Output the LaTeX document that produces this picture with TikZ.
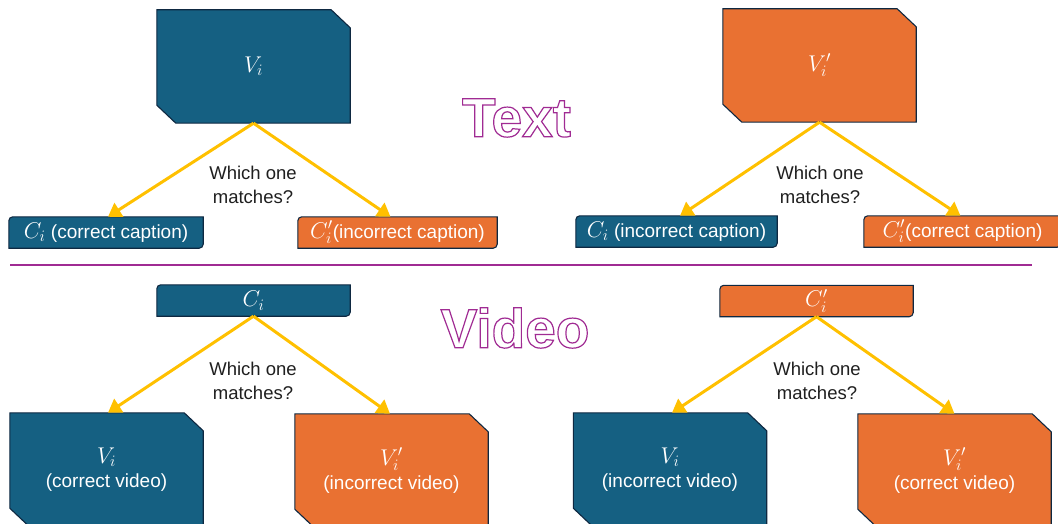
\RequirePackage{fix-cm}
\documentclass[tikz,border=0pt]{standalone}
\usepackage{fontspec}
\setmainfont{Liberation Sans}
\usetikzlibrary{arrows.meta,backgrounds}
\definecolor{cblue}{HTML}{156082}
\definecolor{corange}{HTML}{E97132}
\definecolor{cedge}{HTML}{0E2841}
\definecolor{cgold}{HTML}{FFC000}
\definecolor{cpurple}{HTML}{A02B93}
\newcommand{\outlinetext}[1]{{\color{white}\special{pdf:literal direct 0.627 0.169 0.576 RG 2 Tr 1.2 w}#1\special{pdf:literal direct 0 Tr}}}
\newcommand{\mth}[1]{\scalebox{1.2}{$#1$}}
\tikzset{
  vbox/.style={minimum width=193pt, minimum height=113pt, inner sep=0pt, text=white, align=center, font=\fontsize{19}{24}\selectfont},
  cbox/.style={minimum width=#1, minimum height=31pt, inner sep=0pt, text=white, font=\fontsize{19}{24}\selectfont},
  qtext/.style={align=center, font=\fontsize{18.5}{24}\selectfont, text=black!88, inner sep=0pt},
  title/.style={font=\fontsize{55}{60}\bfseries\selectfont, inner sep=0pt},
  arr/.style={draw=cgold, line width=3pt, -{Triangle[length=13pt,width=16pt]}},
  shapeline/.style={draw=cedge, line width=1.1pt},
  sepline/.style={draw=cpurple, line width=1.4pt},
}
\begin{document}
\begin{tikzpicture}[x=1pt,y=-1pt]
\useasboundingbox (0,0) rectangle (1058,524);
\coordinate (sepA) at (10,265);
\coordinate (sepB) at (1032,265);
\draw[sepline] (sepA) -- (sepB);
% ---------- Text part ----------
\node[vbox] (V1) at (253.5,66.5) {\mth{V_i}};
\node[vbox] (V2) at (819.5,65.5) {\mth{V_i'}};
\node[cbox=194pt] (c1) at (106,232.5) {\mth{C_i} (correct caption)};
\node[cbox=199pt] (c2) at (397.5,232.5) {\mth{C_i'}(incorrect caption)};
\node[cbox=201pt] (c3) at (676.5,231.5) {\mth{C_i} (incorrect caption)};
\node[cbox=197pt] (c4) at (962.5,231.5) {\mth{C_i'}(correct caption)};
\node[qtext] (q1) at (253,185) {Which one\\matches?};
\node[qtext] (q2) at (820,185) {Which one\\matches?};
% ---------- Video part ----------
\node[cbox=193pt] (C1) at (253.5,300.5) {\mth{C_i}};
\node[cbox=193pt] (C2) at (816.5,301) {\mth{C_i'}};
\node[qtext] (q3) at (253,380.5) {Which one\\matches?};
\node[qtext] (q4) at (817,380.5) {Which one\\matches?};
\node[vbox] (B1) at (106.5,469.5) {\mth{V_i}\\(correct video)};
\node[vbox] (B2) at (391.5,470.5) {\mth{V_i'}\\(incorrect video)};
\node[vbox] (B3) at (670,469.5) {\mth{V_i}\\(incorrect video)};
\node[vbox] (B4) at (954.5,470.5) {\mth{V_i'}\\(correct video)};
% ---------- shapes ----------
\begin{scope}[on background layer]
\foreach \n/\c in {V1/cblue,V2/corange,B1/cblue,B2/corange,B3/cblue,B4/corange}{
  \draw[shapeline, fill=\c] (\n.north west) -- ([xshift=-19pt]\n.north east) -- ([yshift=-18pt]\n.north east)
     -- (\n.south east) -- ([xshift=19pt]\n.south west) -- ([yshift=18pt]\n.south west) -- cycle;
}
\foreach \n/\c in {c1/cblue,c2/corange,c3/cblue,c4/corange,C1/cblue,C2/corange}{
  \draw[shapeline, fill=\c] (\n.south west) -- ([yshift=-4pt]\n.north west) arc[start angle=180,end angle=90,radius=4pt]
     -- (\n.north east) -- ([yshift=4pt]\n.south east) arc[start angle=0,end angle=-90,radius=4pt] -- cycle;
}
\end{scope}
% ---------- arrows ----------
\draw[arr] (V1.south) -- ([xshift=2pt]c1.north);
\draw[arr] (V1.south) -- ([xshift=-7pt]c2.north);
\draw[arr] (V2.south) -- ([xshift=3.5pt]c3.north);
\draw[arr] (V2.south) -- ([xshift=-2pt]c4.north);
\draw[arr] (C1.south) -- ([xshift=1.5pt]B1.north);
\draw[arr] (C1.south) -- ([xshift=-1.5pt]B2.north);
\draw[arr] (C2.south) -- ([xshift=2pt]B3.north);
\draw[arr] (C2.south) -- ([xshift=0pt]B4.north);
% ---------- titles ----------
\node[title] (tt) at (516.5,118) {\outlinetext{Text}};
\node[title] (tv) at (515,328) {\outlinetext{Video}};
\end{tikzpicture}
\end{document}
